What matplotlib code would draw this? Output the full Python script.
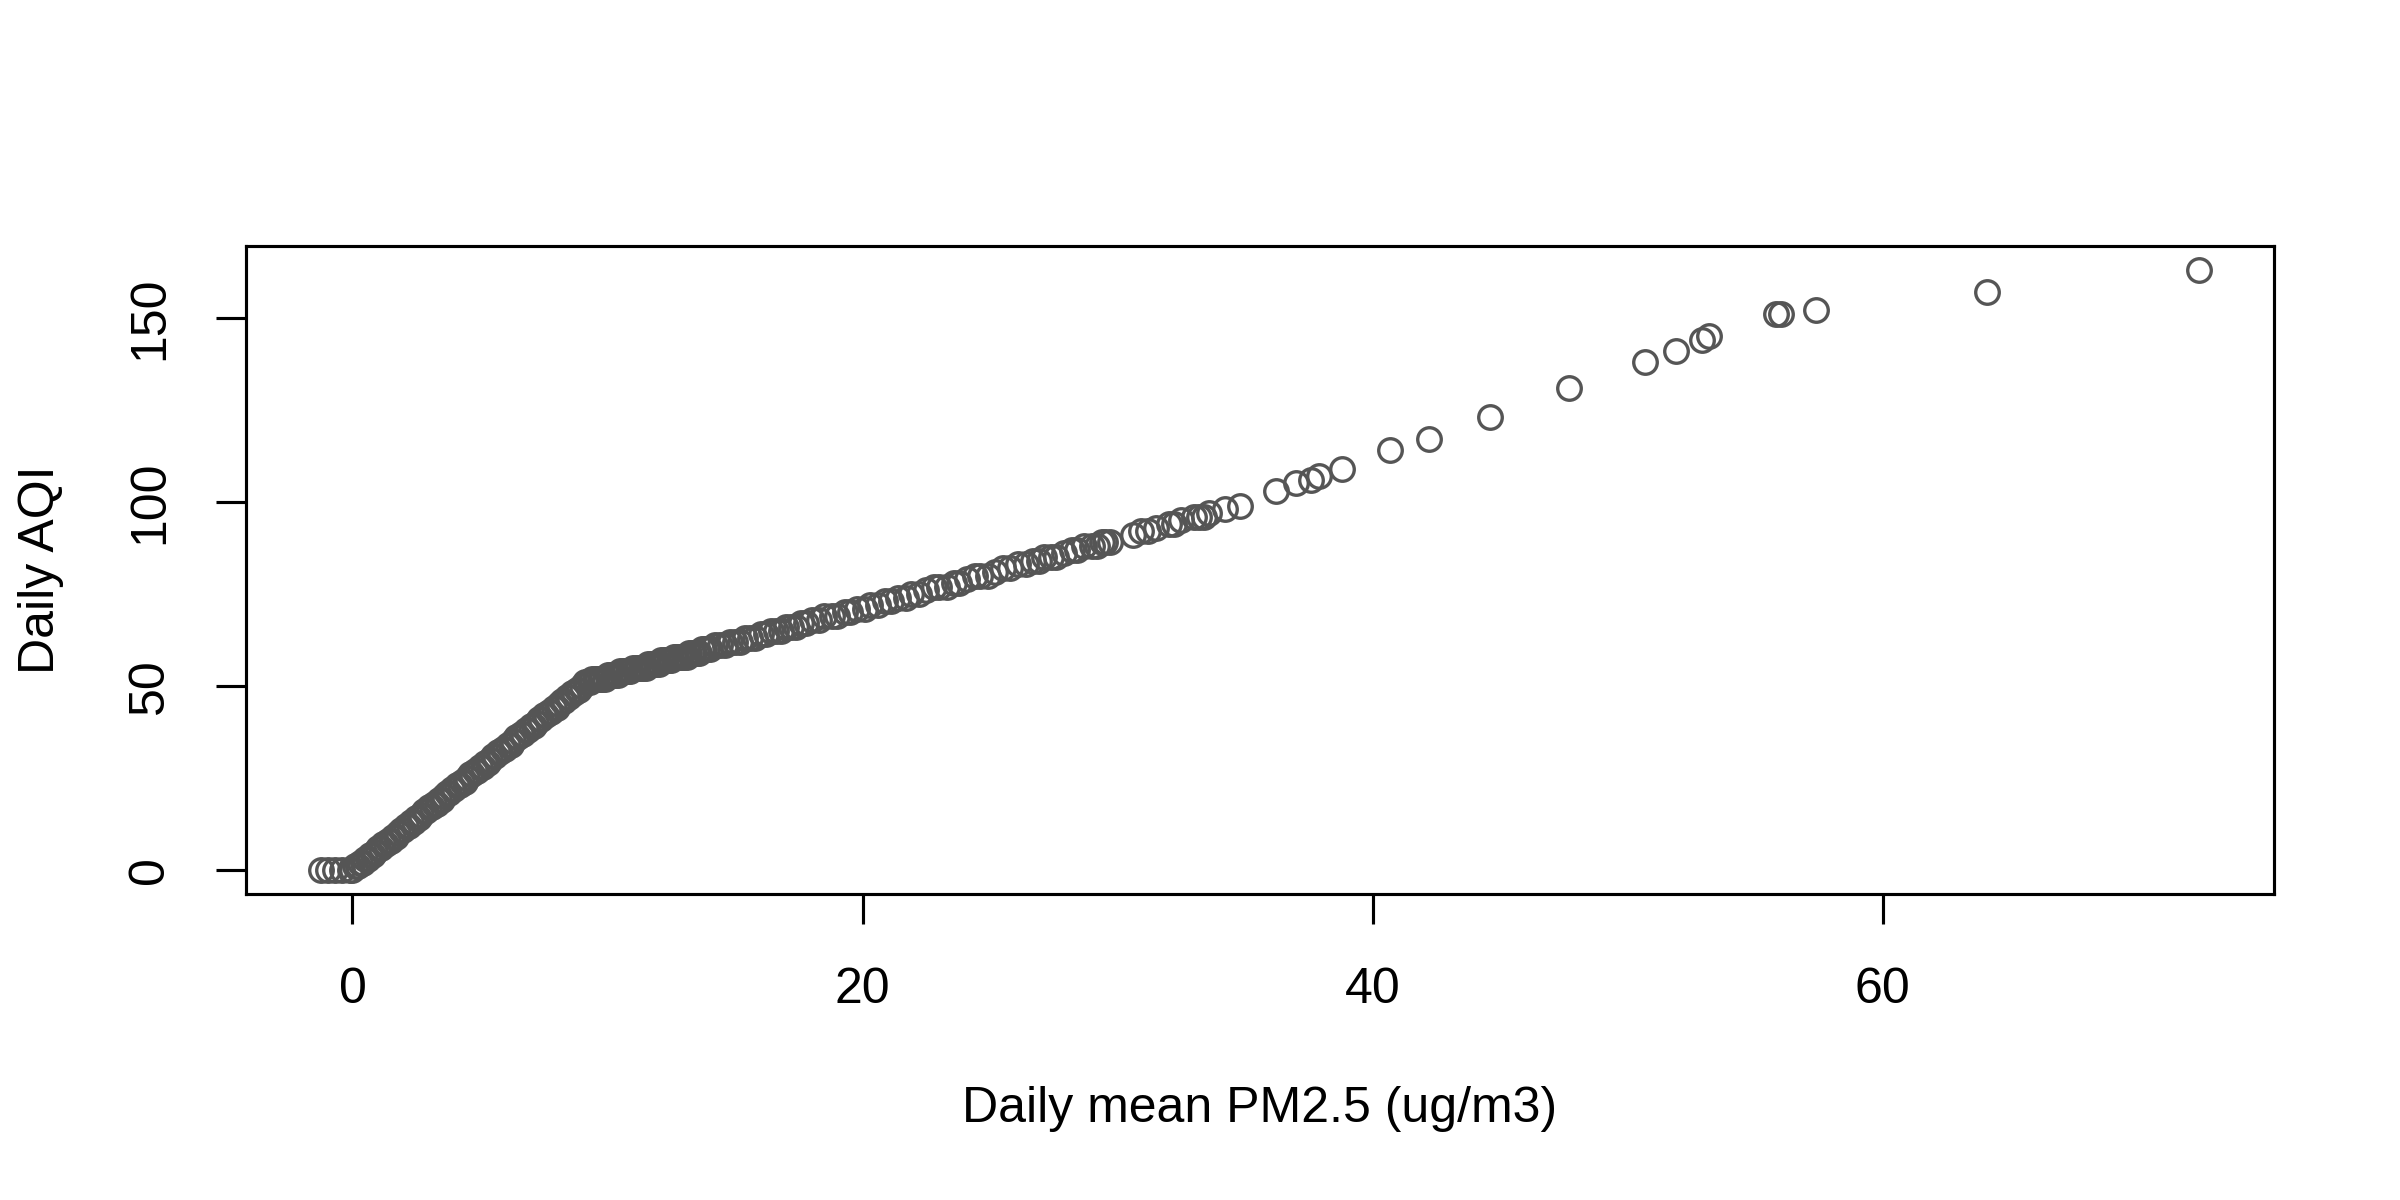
import matplotlib
matplotlib.use("Agg")
import matplotlib.pyplot as plt

# Daily mean PM2.5 (ug/m3) and the corresponding daily AQI
pm25 = [
    -1.23, -0.95, -0.7, -0.4, -0.1, 0.0,
    0.1, 0.2, 0.3, 0.4, 0.5, 0.6, 0.7, 0.8, 0.9, 1.0,
    1.1, 1.2, 1.3, 1.4, 1.5, 1.6, 1.7, 1.8, 1.9, 2.0,
    2.1, 2.2, 2.3, 2.4, 2.5, 2.6, 2.7, 2.8, 2.9, 3.0,
    3.1, 3.2, 3.3, 3.4, 3.5, 3.6, 3.7, 3.8, 3.9, 4.0,
    4.1, 4.2, 4.3, 4.4, 4.5, 4.6, 4.7, 4.8, 4.9, 5.0,
    5.1, 5.2, 5.3, 5.4, 5.5, 5.6, 5.7, 5.8, 5.9, 6.0,
    6.1, 6.2, 6.3, 6.4, 6.5, 6.6, 6.7, 6.8, 6.9, 7.0,
    7.1, 7.2, 7.3, 7.4, 7.5, 7.6, 7.7, 7.8, 7.9, 8.0,
    8.1, 8.2, 8.3, 8.4, 8.5, 8.6, 8.7, 8.8, 8.9, 9.0,
    9.1, 9.2, 9.3, 9.4, 9.5, 9.6, 9.7, 9.8, 9.9, 10.0,
    10.1, 10.2, 10.3, 10.4, 10.5, 10.6, 10.7, 10.8, 10.9, 11.0,
    11.1, 11.2, 11.3, 11.4, 11.5, 11.6, 11.7, 11.8, 11.9, 12.0,
    12.1, 12.2, 12.3, 12.4, 12.5, 12.6, 12.7, 12.8, 12.9, 13.0,
    13.1, 13.2, 13.3, 13.4, 13.5, 13.6, 13.7, 13.8, 13.9, 14.0,
    14.2, 14.4, 14.6, 14.8, 15.0, 15.2, 15.4, 15.6, 15.8, 16.0,
    16.2, 16.4, 16.6, 16.8, 17.0, 17.2, 17.4, 17.6, 17.8, 18.0,
    18.3, 18.5, 18.8, 19.0, 19.3, 19.5, 19.8, 20.1, 20.3, 20.6,
    20.9, 21.1, 21.4, 21.7, 21.9, 22.2, 22.5, 22.8, 23.0, 23.3,
    23.6, 23.8, 24.1, 24.4, 24.6, 24.9, 25.2, 25.5, 25.8, 26.1,
    26.4, 26.7, 26.9,
    27.1, 27.4, 27.6, 27.9, 28.2, 28.4, 28.7, 29.0, 29.2, 29.4, 29.5, 29.7,
    30.6, 30.9, 31.2, 31.5, 32.0, 32.2, 32.5, 33.0, 33.2, 33.4, 33.6, 34.2, 34.8,
    36.2, 37.0, 37.6, 37.9, 38.8, 40.7, 42.2, 44.6, 47.7, 50.7,
    51.9, 52.9, 53.2, 55.8, 56.0, 57.4, 64.1, 72.4,
]

aqi = [
    0, 0, 0, 0, 0, 0,
    1, 1, 2, 2, 3, 3, 4, 4, 5, 6,
    6, 7, 7, 8, 8, 9, 9, 10, 11, 11,
    12, 12, 13, 13, 14, 14, 15, 16, 16, 17,
    17, 18, 18, 19, 19, 20, 21, 21, 22, 22,
    23, 23, 24, 24, 25, 26, 26, 27, 27, 28,
    28, 29, 29, 30, 31, 31, 32, 32, 33, 33,
    34, 34, 35, 36, 36, 37, 37, 38, 38, 39,
    39, 40, 41, 41, 42, 42, 43, 43, 44, 44,
    45, 46, 46, 47, 47, 48, 48, 49, 49, 50,
    51, 51, 51, 52, 52, 52, 52, 52, 52, 53,
    53, 53, 53, 53, 54, 54, 54, 54, 54, 55,
    55, 55, 55, 55, 55, 56, 56, 56, 56, 56,
    57, 57, 57, 57, 57, 58, 58, 58, 58, 58,
    58, 59, 59, 59, 59, 59, 60, 60, 60, 60,
    61, 61, 61, 62, 62, 62, 63, 63, 63, 64,
    64, 65, 65, 65, 66, 66, 66, 67, 67, 68,
    68, 69, 69, 69, 70, 70, 71, 71, 72, 72,
    73, 73, 74, 74, 75, 75, 76, 77, 77, 77,
    78, 78, 79, 80, 80, 80, 81, 82, 82, 83,
    83, 84, 84,
    85, 85, 85, 86, 87, 87, 88, 88, 88, 89, 89, 89,
    91, 92, 92, 93, 94, 94, 95, 96, 96, 96, 97, 98, 99,
    103, 105, 106, 107, 109, 114, 117, 123, 131, 138,
    141, 144, 145, 151, 151, 152, 157, 163,
]

x_ticks = [0, 20, 40, 60]
y_ticks = [0, 50, 100, 150]
x_label = "Daily mean PM2.5 (ug/m3)"
y_label = "Daily AQI"

plt.rcParams['font.family'] = ['Liberation Sans', 'DejaVu Sans']
plt.rcParams['font.size'] = 12

fig = plt.figure(figsize=(8, 4), dpi=300)
ax = fig.add_axes([0.1025, 0.255, 0.845, 0.54])

ax.plot(pm25, aqi, linestyle='none', marker='o', markersize=5.65,
        markerfacecolor='none', markeredgecolor='#555555', markeredgewidth=0.8)

ax.margins(x=0.04, y=0.04)

for sp in ax.spines.values():
    sp.set_linewidth(0.75)
    sp.set_color('black')

ax.set_xticks(x_ticks, labels=[str(v) for v in x_ticks])
ax.set_yticks(y_ticks, labels=[str(v) for v in y_ticks], rotation=90, va='center')
ax.tick_params(direction='out', length=7.2, width=0.75, pad=10.3,
               labelsize=12, colors='black')

ax.set_xlabel(x_label, fontsize=12)
ax.xaxis.set_label_coords(0.5, -228 / 648)
ax.xaxis.label.set_verticalalignment('baseline')

ax.set_ylabel(y_label, fontsize=12)
ax.yaxis.set_label_coords(-192 / 2028, 0.5)
ax.yaxis.label.set_verticalalignment('baseline')

fig.savefig('out.png', dpi=300)
